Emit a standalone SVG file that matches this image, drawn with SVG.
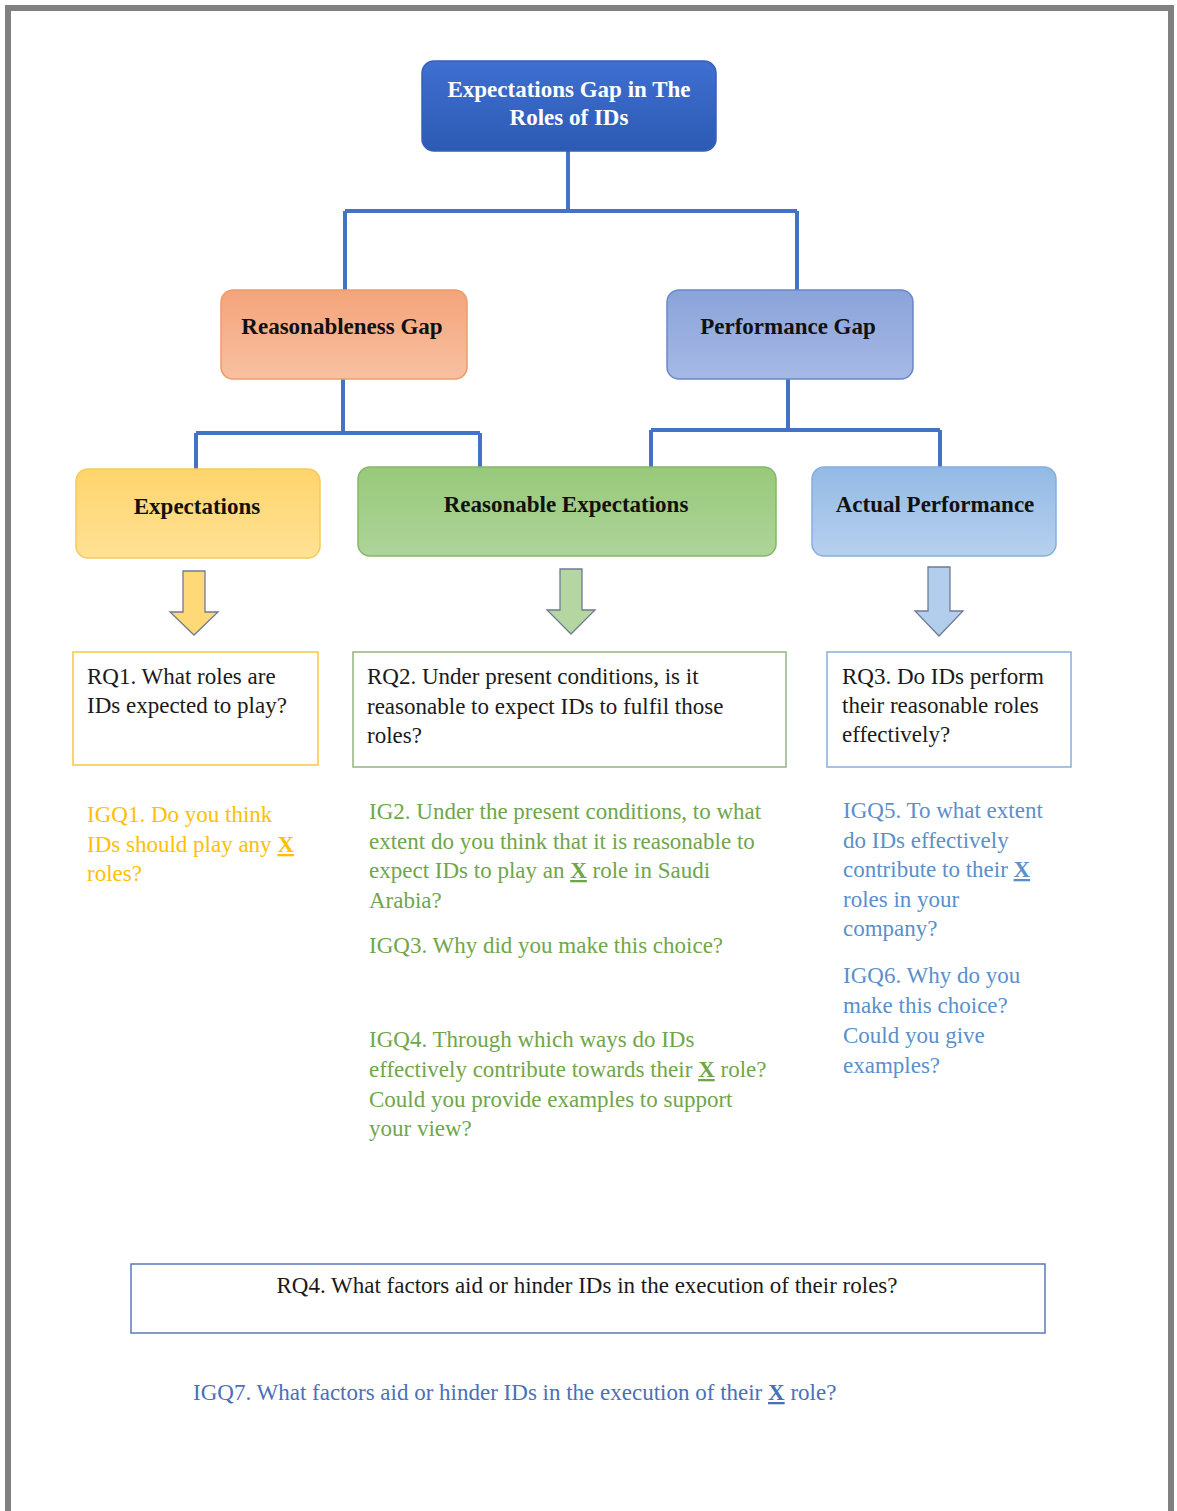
<svg xmlns="http://www.w3.org/2000/svg" width="1177" height="1511" viewBox="0 0 1177 1511">
<defs>
<linearGradient id="gTop" x1="0" y1="0" x2="0" y2="1"><stop offset="0" stop-color="#3F6FD1"/><stop offset="1" stop-color="#2C5AB3"/></linearGradient>
<linearGradient id="gOr" x1="0" y1="0" x2="0" y2="1"><stop offset="0" stop-color="#F4A47A"/><stop offset="1" stop-color="#F8C0A2"/></linearGradient>
<linearGradient id="gPG" x1="0" y1="0" x2="0" y2="1"><stop offset="0" stop-color="#8AA3DA"/><stop offset="1" stop-color="#A6B9E5"/></linearGradient>
<linearGradient id="gY" x1="0" y1="0" x2="0" y2="1"><stop offset="0" stop-color="#FFD46C"/><stop offset="1" stop-color="#FFE295"/></linearGradient>
<linearGradient id="gG" x1="0" y1="0" x2="0" y2="1"><stop offset="0" stop-color="#98C97A"/><stop offset="1" stop-color="#AED49A"/></linearGradient>
<linearGradient id="gB" x1="0" y1="0" x2="0" y2="1"><stop offset="0" stop-color="#93BAE5"/><stop offset="1" stop-color="#B7D0EE"/></linearGradient>
</defs>
<style>
.bt{font-family:"Liberation Serif","Times New Roman",serif;font-weight:bold;font-size:23px;text-anchor:middle;fill:#111}
.t{font-family:"Liberation Serif","Times New Roman",serif;font-size:23px;fill:#1a1a1a}
.y{fill:#FFC000}
.g{fill:#6FA64A}
.b{fill:#5B8FCB}
.d{fill:#4A70B8}
.x{font-weight:bold;text-decoration:underline}
.conn{fill:none;stroke:#4472C4;stroke-width:4}
.arr{stroke:#6E7A95;stroke-width:1.3}
</style>
<rect width="1177" height="1511" fill="#fff"/>
<path d="M8 1511 V8 H1171 V1511" fill="none" stroke="#808080" stroke-width="6"/>

<g id="connectors">
<path class="conn" d="M568 151 V211 M345 211 H797 M345 211 V290 M797 211 V290"/>
<path class="conn" d="M343 379 V433 M196 433 H480 M196 433 V470 M480 433 V468"/>
<path class="conn" d="M788 379 V430 M651 430 H940 M651 430 V468 M940 430 V468"/>
</g>

<g id="n-top">
<rect x="422" y="61" width="294" height="90" rx="12" fill="url(#gTop)" stroke="#3560B5" stroke-width="1.5"/>
<text class="bt" x="569" y="97" style="fill:#fff">Expectations Gap in The</text>
<text class="bt" x="569" y="125" style="fill:#fff">Roles of IDs</text>
</g>
<g id="n-rg">
<rect x="221" y="290" width="246" height="89" rx="12" fill="url(#gOr)" stroke="#EE9A6A" stroke-width="1.5"/>
<text class="bt" x="342" y="334">Reasonableness Gap</text>
</g>
<g id="n-pg">
<rect x="667" y="290" width="246" height="89" rx="12" fill="url(#gPG)" stroke="#6A88C8" stroke-width="1.5"/>
<text class="bt" x="788" y="334">Performance Gap</text>
</g>
<g id="n-exp">
<rect x="76" y="469" width="244" height="89" rx="12" fill="url(#gY)" stroke="#F5CA5C" stroke-width="1.5"/>
<text class="bt" x="197" y="514">Expectations</text>
</g>
<g id="n-re">
<rect x="358" y="467" width="418" height="89" rx="12" fill="url(#gG)" stroke="#84B867" stroke-width="1.5"/>
<text class="bt" x="566" y="512">Reasonable Expectations</text>
</g>
<g id="n-ap">
<rect x="812" y="467" width="244" height="89" rx="12" fill="url(#gB)" stroke="#86AEDD" stroke-width="1.5"/>
<text class="bt" x="935" y="512">Actual Performance</text>
</g>

<g id="arrows">
<path class="arr" d="M183 571 H205 V612 H218 L194 635 L170 612 H183 Z" fill="#FFD978"/>
<path class="arr" d="M560 569 H582 V610 H595 L571 634 L547 610 H560 Z" fill="#B5D6A0"/>
<path class="arr" d="M928 567 H950 V611 H963 L939 636 L915 611 H928 Z" fill="#B3CEEC"/>
</g>

<g id="rq1">
<rect x="73" y="652" width="245" height="113" fill="#fff" stroke="#F5C842" stroke-width="1.5"/>
<text class="t" x="87" y="684">RQ1. What roles are</text>
<text class="t" x="87" y="713">IDs expected to play?</text>
</g>
<g id="rq2">
<rect x="353" y="652" width="433" height="115" fill="#fff" stroke="#94B47C" stroke-width="1.5"/>
<text class="t" x="367" y="684">RQ2. Under present conditions, is it</text>
<text class="t" x="367" y="714">reasonable to expect IDs to fulfil those</text>
<text class="t" x="367" y="743">roles?</text>
</g>
<g id="rq3">
<rect x="827" y="652" width="244" height="115" fill="#fff" stroke="#88AEDA" stroke-width="1.5"/>
<text class="t" x="842" y="684">RQ3. Do IDs perform</text>
<text class="t" x="842" y="713">their reasonable roles</text>
<text class="t" x="842" y="742">effectively?</text>
</g>

<g id="igq1">
<text class="t y" x="87" y="822">IGQ1. Do you think</text>
<text class="t y" x="87" y="852">IDs should play any <tspan class="x">X</tspan></text>
<text class="t y" x="87" y="881">roles?</text>
</g>
<g id="igq2-4">
<text class="t g" x="369" y="819">IG2. Under the present conditions, to what</text>
<text class="t g" x="369" y="849">extent do you think that it is reasonable to</text>
<text class="t g" x="369" y="878">expect IDs to play an <tspan class="x">X</tspan> role in Saudi</text>
<text class="t g" x="369" y="908">Arabia?</text>
<text class="t g" x="369" y="953">IGQ3. Why did you make this choice?</text>
<text class="t g" x="369" y="1047">IGQ4. Through which ways do IDs</text>
<text class="t g" x="369" y="1077">effectively contribute towards their <tspan class="x">X</tspan> role?</text>
<text class="t g" x="369" y="1107">Could you provide examples to support</text>
<text class="t g" x="369" y="1136">your view?</text>
</g>
<g id="igq5-6">
<text class="t b" x="843" y="818">IGQ5. To what extent</text>
<text class="t b" x="843" y="848">do IDs effectively</text>
<text class="t b" x="843" y="877">contribute to their <tspan class="x">X</tspan></text>
<text class="t b" x="843" y="907">roles in your</text>
<text class="t b" x="843" y="936">company?</text>
<text class="t b" x="843" y="983">IGQ6. Why do you</text>
<text class="t b" x="843" y="1013">make this choice?</text>
<text class="t b" x="843" y="1043">Could you give</text>
<text class="t b" x="843" y="1073">examples?</text>
</g>

<g id="rq4">
<rect x="131" y="1264" width="914" height="69" fill="#fff" stroke="#5A78B8" stroke-width="1.5"/>
<text class="t" x="587" y="1293" text-anchor="middle">RQ4. What factors aid or hinder IDs in the execution of their roles?</text>
</g>
<g id="igq7">
<text class="t d" x="193" y="1400">IGQ7. What factors aid or hinder IDs in the execution of their <tspan class="x">X</tspan> role?</text>
</g>
</svg>
